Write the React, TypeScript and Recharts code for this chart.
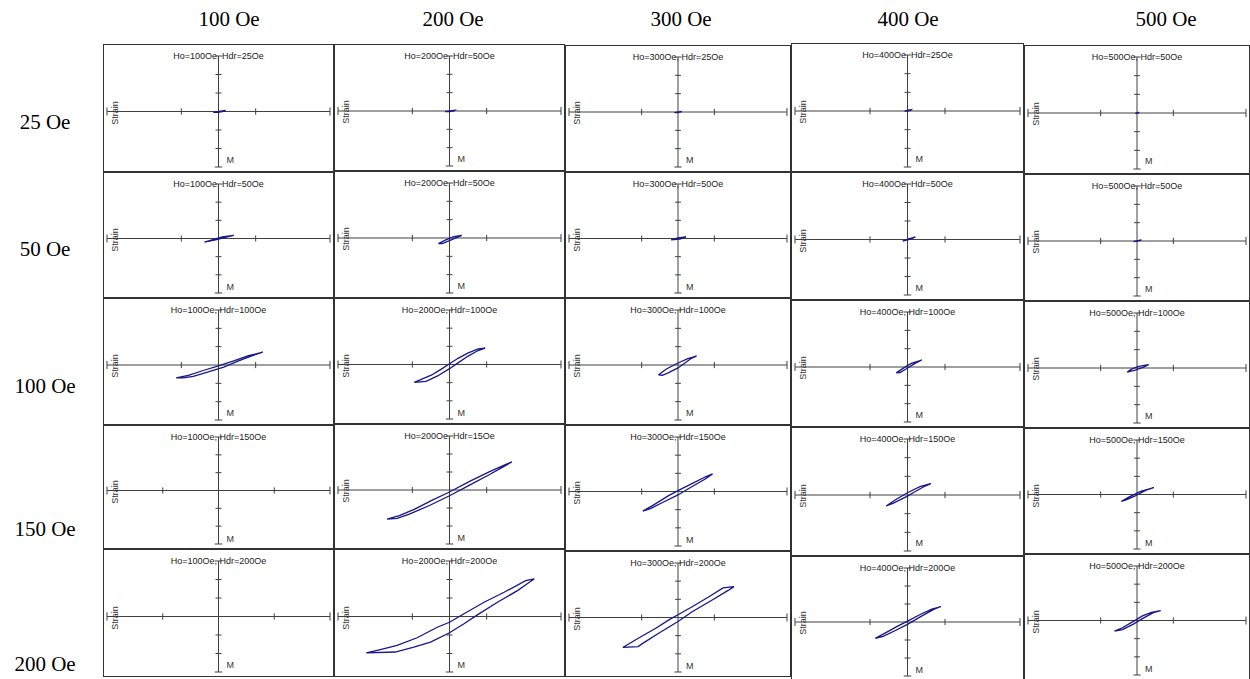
import React from 'react';
import { LineChart, Line, XAxis, YAxis, ReferenceLine } from 'recharts';

type Pt = [number, number];

// Column headings: bias field Ho; row headings: driving field Hdr
const biasLabels = ['100 Oe', '200 Oe', '300 Oe', '400 Oe', '500 Oe'];
const drivingLabels = ['25 Oe', '50 Oe', '100 Oe', '150 Oe', '200 Oe'];

const panelTitles: string[][] = [
  ['Ho=100Oe, Hdr=25Oe', 'Ho=200Oe, Hdr=50Oe', 'Ho=300Oe, Hdr=25Oe', 'Ho=400Oe, Hdr=25Oe', 'Ho=500Oe, Hdr=50Oe'],
  ['Ho=100Oe, Hdr=50Oe', 'Ho=200Oe, Hdr=50Oe', 'Ho=300Oe, Hdr=50Oe', 'Ho=400Oe, Hdr=50Oe', 'Ho=500Oe, Hdr=50Oe'],
  ['Ho=100Oe, Hdr=100Oe', 'Ho=200Oe, Hdr=100Oe', 'Ho=300Oe, Hdr=100Oe', 'Ho=400Oe, Hdr=100Oe', 'Ho=500Oe, Hdr=100Oe'],
  ['Ho=100Oe, Hdr=150Oe', 'Ho=200Oe, Hdr=15Oe', 'Ho=300Oe, Hdr=150Oe', 'Ho=400Oe, Hdr=150Oe', 'Ho=500Oe, Hdr=150Oe'],
  ['Ho=100Oe, Hdr=200Oe', 'Ho=200Oe, Hdr=200Oe', 'Ho=300Oe, Hdr=200Oe', 'Ho=400Oe, Hdr=200Oe', 'Ho=500Oe, Hdr=200Oe'],
];

// Strain vs M loops, [M, strain] in axis units, traced around the loop
const loopHo100Hdr25: Pt[] = [[-0.14, -0.05], [0.02, 0.0], [0.19, 0.06], [0.16, 0.02], [0.0, -0.04], [-0.14, -0.05]];
const loopHo200Hdr50a: Pt[] = [[-0.12, -0.03], [0.02, 0.01], [0.14, 0.04], [0.12, 0.01], [0.0, -0.03], [-0.12, -0.03]];
const loopHo300Hdr25: Pt[] = [[-0.1, -0.03], [0.02, 0.0], [0.1, 0.03], [0.08, 0.0], [-0.02, -0.03], [-0.1, -0.03]];
const loopHo400Hdr25: Pt[] = [[-0.08, -0.01], [0.02, 0.04], [0.1, 0.07], [0.08, 0.03], [-0.02, -0.01], [-0.08, -0.01]];
const loopHo500Hdr50a: Pt[] = [[-0.05, -0.02], [0.02, 0.02], [0.06, 0.03], [0.03, 0.0], [-0.05, -0.02]];

const loopHo100Hdr50: Pt[] = [[-0.38, -0.2], [-0.15, -0.06], [0.1, 0.09], [0.41, 0.17], [0.18, 0.06], [-0.08, -0.08], [-0.38, -0.2]];
const loopHo200Hdr50: Pt[] = [[-0.3, -0.3], [-0.1, -0.1], [0.12, 0.08], [0.33, 0.14], [0.22, 0.05], [0.0, -0.14], [-0.2, -0.3], [-0.3, -0.3]];
const loopHo300Hdr50: Pt[] = [[-0.19, -0.08], [0.0, 0.03], [0.22, 0.09], [0.05, -0.03], [-0.19, -0.08]];
const loopHo400Hdr50: Pt[] = [[-0.13, -0.09], [0.05, 0.05], [0.21, 0.13], [0.05, 0.0], [-0.13, -0.09]];
const loopHo500Hdr50: Pt[] = [[-0.1, -0.03], [0.02, 0.02], [0.12, 0.05], [0.0, -0.01], [-0.1, -0.03]];

const loopHo100Hdr100: Pt[] = [[-1.14, -0.7], [-0.81, -0.56], [-0.41, -0.3], [0, -0.05], [0.41, 0.22], [0.81, 0.51], [1.19, 0.7], [0.95, 0.54], [0.54, 0.22], [0.14, -0.11], [-0.27, -0.38], [-0.68, -0.62], [-0.95, -0.7], [-1.14, -0.7]];
const loopHo200Hdr100: Pt[] = [[-0.95, -0.98], [-0.49, -0.59], [-0.23, -0.27], [0, 0.04], [0.23, 0.34], [0.49, 0.63], [0.77, 0.86], [0.96, 0.9], [0.77, 0.77], [0.49, 0.45], [0.23, 0.09], [0, -0.23], [-0.32, -0.63], [-0.63, -0.93], [-0.95, -0.98]];
const loopHo300Hdr100: Pt[] = [[-0.54, -0.54], [-0.32, -0.22], [0, 0.11], [0.27, 0.35], [0.51, 0.48], [0.38, 0.38], [0, -0.16], [-0.27, -0.43], [-0.43, -0.56], [-0.54, -0.54]];
const loopHo400Hdr100: Pt[] = [[-0.3, -0.32], [-0.1, -0.05], [0.1, 0.2], [0.38, 0.38], [0.2, 0.2], [-0.05, -0.12], [-0.2, -0.3], [-0.3, -0.32]];
const loopHo500Hdr100: Pt[] = [[-0.27, -0.22], [-0.14, -0.05], [0.05, 0.09], [0.32, 0.18], [0.18, 0.05], [-0.05, -0.12], [-0.27, -0.22]];

const loopHo100Hdr150: Pt[] = [];
const loopHo200Hdr150: Pt[] = [[-1.68, -1.62], [-1.35, -1.42], [-0.95, -1.08], [-0.49, -0.59], [0, -0.11], [0.54, 0.48], [1.08, 1.02], [1.49, 1.4], [1.68, 1.56], [1.49, 1.34], [1.08, 0.86], [0.54, 0.27], [0, -0.32], [-0.54, -0.86], [-1.08, -1.34], [-1.41, -1.58], [-1.68, -1.62]];
const loopHo300Hdr150: Pt[] = [[-0.97, -1.08], [-0.68, -0.75], [-0.27, -0.24], [0, 0.05], [0.41, 0.46], [0.76, 0.81], [0.95, 0.97], [0.76, 0.7], [0.32, 0.19], [0, -0.19], [-0.41, -0.59], [-0.76, -0.94], [-0.97, -1.08]];
const loopHo400Hdr150: Pt[] = [[-0.57, -0.59], [-0.3, -0.23], [0, 0.12], [0.33, 0.45], [0.62, 0.61], [0.47, 0.48], [0.15, 0.12], [0, -0.06], [-0.39, -0.45], [-0.57, -0.59]];
const loopHo500Hdr150: Pt[] = [[-0.43, -0.38], [-0.2, -0.12], [0.1, 0.17], [0.46, 0.38], [0.25, 0.24], [-0.05, -0.08], [-0.3, -0.3], [-0.43, -0.38]];

const loopHo100Hdr200: Pt[] = [];
const loopHo200Hdr200: Pt[] = [[-2.24, -1.97], [-1.86, -1.79], [-1.41, -1.56], [-0.87, -1.15], [-0.33, -0.58], [0, -0.31], [0.39, 0.15], [0.93, 0.77], [1.47, 1.31], [2.05, 1.94], [2.28, 2.03], [2.14, 1.84], [1.83, 1.4], [1.29, 0.77], [0.75, 0.09], [0.39, -0.39], [0, -0.88], [-0.51, -1.38], [-0.96, -1.65], [-1.46, -1.92], [-2.24, -1.97]];
const loopHo300Hdr200: Pt[] = [[-1.52, -1.65], [-1.14, -1.2], [-0.6, -0.58], [-0.24, -0.12], [0, 0.15], [0.39, 0.59], [0.84, 1.13], [1.24, 1.63], [1.54, 1.7], [1.38, 1.49], [0.93, 0.95], [0.39, 0.32], [0, -0.22], [-0.51, -0.84], [-0.96, -1.41], [-1.1, -1.6], [-1.52, -1.65]];
const loopHo400Hdr200: Pt[] = [[-0.86, -0.91], [-0.6, -0.62], [-0.3, -0.27], [0, 0.05], [0.35, 0.43], [0.65, 0.72], [0.89, 0.86], [0.7, 0.7], [0.35, 0.3], [0, -0.13], [-0.35, -0.5], [-0.65, -0.8], [-0.86, -0.91]];
const loopHo500Hdr200: Pt[] = [[-0.62, -0.59], [-0.4, -0.4], [-0.1, -0.05], [0.15, 0.25], [0.4, 0.45], [0.65, 0.54], [0.45, 0.43], [0.15, 0.1], [-0.1, -0.2], [-0.4, -0.5], [-0.62, -0.59]];

const loops: Pt[][][] = [
  [loopHo100Hdr25, loopHo200Hdr50a, loopHo300Hdr25, loopHo400Hdr25, loopHo500Hdr50a],
  [loopHo100Hdr50, loopHo200Hdr50, loopHo300Hdr50, loopHo400Hdr50, loopHo500Hdr50],
  [loopHo100Hdr100, loopHo200Hdr100, loopHo300Hdr100, loopHo400Hdr100, loopHo500Hdr100],
  [loopHo100Hdr150, loopHo200Hdr150, loopHo300Hdr150, loopHo400Hdr150, loopHo500Hdr150],
  [loopHo100Hdr200, loopHo200Hdr200, loopHo300Hdr200, loopHo400Hdr200, loopHo500Hdr200],
];

// Inner tick position on the M axis (outer ticks sit at the axis ends)
const mInnerTick: number[][] = [
  [1, 1, 1, 1, 1],
  [1, 1, 1, 1, 1],
  [1, 1, 1, 1, 1],
  [1.5, 1, 1, 1, 1],
  [1.5, 1, 1, 1, 1],
];
const strainTicks = [-2, -1, 1, 2];

// Layout of the grid of small plots
const colX = [103, 334, 565, 791, 1024];
const colW = [231, 231, 226, 233, 226];
const rowEdges: number[][] = [
  [44, 172, 298, 425, 549, 677],
  [44, 171, 298, 424, 549, 677],
  [45, 172, 298, 425, 551, 677],
  [43, 172, 300, 427, 556, 681],
  [45, 174, 301, 428, 554, 680],
];
const headerX = [229, 453, 681, 908, 1166];
const rowLabelBaseline = [131, 258, 395, 538, 673];

const MARGIN = { top: 12, right: 4, bottom: 5, left: 4 };
const AXIS = '#404040';
const LOOP = '#17178a';
const SANS = '"Liberation Sans", Arial, Helvetica, sans-serif';
const SERIF = '"Liberation Serif", "Times New Roman", Times, serif';

function Panel(props: { x: number; y: number; w: number; h: number; title: string; loop: Pt[]; inner: number }) {
  const { x, y, w, h, title, loop, inner } = props;
  const data = loop.map(([m, s]) => ({ m, s }));
  const plotW = w - MARGIN.left - MARGIN.right;
  const plotH = h - MARGIN.top - MARGIN.bottom;
  const cx = MARGIN.left + plotW / 2;
  const cy = MARGIN.top + plotH / 2;
  const seg = (a: { x: number; y: number }, b: { x: number; y: number }, key: string) => (
    <ReferenceLine key={key} segment={[a, b]} stroke={AXIS} strokeWidth={1} />
  );
  return (
    <div style={{ position: 'absolute', left: x, top: y, width: w, height: h, background: '#fff', overflow: 'visible' }}>
      <div
        style={{
          position: 'absolute', left: 0, top: 7, width: w, textAlign: 'center',
          fontFamily: SANS, fontSize: 9, lineHeight: '10px', color: '#222', whiteSpace: 'nowrap',
        }}
      >
        {title}
      </div>
      <div style={{ position: 'absolute', left: 0, top: 0 }}>
        <LineChart width={w} height={h} data={data} margin={MARGIN}>
          <XAxis type="number" dataKey="m" domain={[-3, 3]} hide allowDataOverflow />
          <YAxis type="number" domain={[-3, 3]} hide allowDataOverflow />
          <ReferenceLine y={0} stroke={AXIS} strokeWidth={1} />
          <ReferenceLine x={0} stroke={AXIS} strokeWidth={1} />
          {[-3, 3].map((t) => seg({ x: t, y: -0.22 }, { x: t, y: 0.22 }, 'hc' + t))}
          {[-inner, inner].map((t) => seg({ x: t, y: -0.17 }, { x: t, y: 0.17 }, 'ht' + t))}
          {[-3, 3].map((t) => seg({ x: -0.1, y: t }, { x: 0.1, y: t }, 'vc' + t))}
          {strainTicks.map((t) => seg({ x: -0.08, y: t }, { x: 0.08, y: t }, 'vt' + t))}
          {data.length > 0 && (
            <Line type="linear" dataKey="s" stroke={LOOP} strokeWidth={1.3} dot={false} isAnimationActive={false} />
          )}
        </LineChart>
      </div>
      <div
        style={{
          position: 'absolute', left: 12, top: cy + 1, transform: 'translate(-50%, -50%) rotate(-90deg)',
          fontFamily: SANS, fontSize: 9, lineHeight: '10px', color: '#333', whiteSpace: 'nowrap',
        }}
      >
        Strain
      </div>
      <div
        style={{
          position: 'absolute', left: cx + 8, top: cy + 43,
          fontFamily: SANS, fontSize: 9, lineHeight: '10px', color: '#333',
        }}
      >
        M
      </div>
      <div
        style={{
          position: 'absolute', left: 0, top: 0, width: w, height: h, boxSizing: 'border-box',
          border: '1px solid #333', pointerEvents: 'none',
        }}
      />
    </div>
  );
}

export default function App() {
  const panels: React.ReactNode[] = [];
  for (let c = 0; c < 5; c++) {
    for (let r = 0; r < 5; r++) {
      const top = rowEdges[c][r];
      const bottom = rowEdges[c][r + 1];
      panels.push(
        <Panel
          key={`${r}-${c}`}
          x={colX[c]}
          y={top}
          w={colW[c]}
          h={bottom - top}
          title={panelTitles[r][c]}
          loop={loops[r][c]}
          inner={mInnerTick[r][c]}
        />
      );
    }
  }
  return (
    <div style={{ position: 'absolute', left: 0, top: 0, width: 1250, height: 679, background: '#fff', overflow: 'hidden' }}>
      {biasLabels.map((t, i) => (
        <div
          key={t}
          style={{
            position: 'absolute', left: headerX[i] - 60, top: 9, width: 120, textAlign: 'center',
            fontFamily: SERIF, fontSize: 21, lineHeight: '21px', color: '#000',
          }}
        >
          {t}
        </div>
      ))}
      {drivingLabels.map((t, i) => (
        <div
          key={t}
          style={{
            position: 'absolute', left: -15, top: rowLabelBaseline[i] - 19, width: 120, textAlign: 'center',
            fontFamily: SERIF, fontSize: 21, lineHeight: '21px', color: '#000',
          }}
        >
          {t}
        </div>
      ))}
      {panels}
    </div>
  );
}
